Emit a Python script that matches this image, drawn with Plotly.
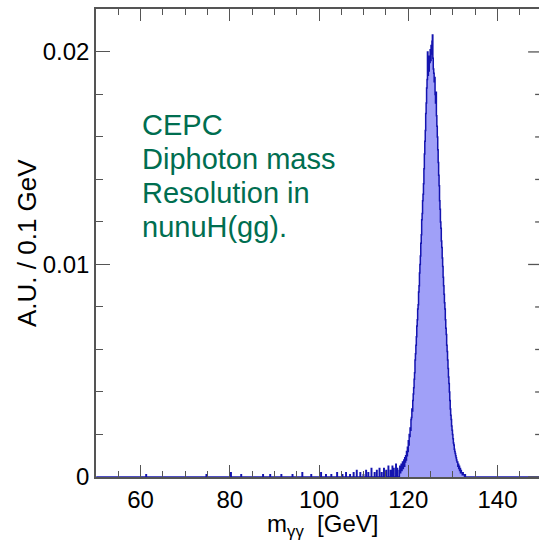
import numpy as np
import plotly.graph_objects as go

# ---------------- data ----------------
# bin width 0.1 GeV; peak region bins starting at 118.0 GeV
peak_start = 118.0
peak_values = [
    0.0003, 0.0005, 0.0002, 0.0004, 0.0006, 0.0003, 0.0005, 0.0007, 0.0004, 0.0006,  # 118.0-118.9
    0.0008, 0.0005, 0.0009, 0.0007, 0.0010, 0.0008, 0.0012, 0.0010, 0.0014, 0.0012,  # 119.0-119.9
    0.0017, 0.0015, 0.0020, 0.0019, 0.0023, 0.0022, 0.0027, 0.0028, 0.0032, 0.0031,  # 120.0-120.9
    0.0036, 0.0039, 0.0042, 0.0046, 0.0049, 0.0055, 0.0058, 0.0062, 0.0066, 0.0071,  # 121.0-121.9
    0.0074, 0.0079, 0.0081, 0.0087, 0.0090, 0.0096, 0.0100, 0.0104, 0.0110, 0.0114,  # 122.0-122.9
    0.0121, 0.0124, 0.0130, 0.0133, 0.0138, 0.0145, 0.0152, 0.0158, 0.0163, 0.0171,  # 123.0-123.9
    0.0176, 0.0183, 0.0187, 0.0200, 0.0189, 0.0194, 0.0191, 0.0198, 0.0195, 0.0201,  # 124.0-124.9
    0.0196, 0.0203, 0.0199, 0.0205, 0.0208, 0.0197, 0.0192, 0.0190, 0.0186, 0.0188,  # 125.0-125.9
    0.0180, 0.0176, 0.0181, 0.0170, 0.0165, 0.0160, 0.0154, 0.0148, 0.0142, 0.0137,  # 126.0-126.9
    0.0130, 0.0126, 0.0120, 0.0117, 0.0111, 0.0108, 0.0103, 0.0099, 0.0094, 0.0090,  # 127.0-127.9
    0.0086, 0.0082, 0.0079, 0.0074, 0.0070, 0.0067, 0.0062, 0.0059, 0.0055, 0.0051,  # 128.0-128.9
    0.0047, 0.0044, 0.0040, 0.0036, 0.0032, 0.0029, 0.0027, 0.0024, 0.0022, 0.0020,  # 129.0-129.9
    0.0018, 0.0016, 0.0015, 0.0013, 0.0012, 0.0011, 0.0010, 0.0009, 0.0008, 0.0007,  # 130.0-130.9
    0.0007, 0.0005, 0.0006, 0.0004, 0.0005, 0.0003, 0.0004, 0.0002, 0.0003, 0.0002,  # 131.0-131.9
    0.0002, 0.0001, 0.0002, 0.0001, 0.0001, 0.0001, 0.0000, 0.0001, 0.0000, 0.0000,  # 132.0-132.9
]

# sparse low-mass tail: bin position (GeV) and content
tail_x = [61.3, 74.8, 80.2, 82.6, 87.4, 89.1, 91.5, 94.0, 96.3, 98.2,
          100.4, 101.5, 102.8, 104.1, 105.3, 106.0, 106.9, 107.7, 108.4, 109.2,
          109.9, 110.5, 111.1, 111.8, 112.4, 112.9, 113.5, 114.0, 114.6, 115.1,
          115.5, 116.0, 116.4, 116.8, 117.2, 117.6]
tail_y = [0.0001, 0.0001, 0.0002, 0.0001, 0.0001, 0.0001, 0.0001, 0.0001, 0.0002, 0.0001,
          0.0002, 0.0001, 0.0001, 0.0002, 0.0001, 0.0002, 0.0001, 0.0002, 0.0003, 0.0002,
          0.0001, 0.0003, 0.0002, 0.0004, 0.0002, 0.0003, 0.0004, 0.0002, 0.0004, 0.0003,
          0.0005, 0.0003, 0.0005, 0.0004, 0.0006, 0.0004]

x_ticks = [60, 80, 100, 120, 140]
y_ticks = [0, 0.01, 0.02]
y_ticklabels = ["0", "0.01", "0.02"]
note_lines = ["CEPC", "Diphoton mass", "Resolution in", "nunuH(gg)."]

# ---------------- build histogram ----------------
x_lo, x_hi, bw = 50.0, 150.0, 0.1
nb = int(round((x_hi - x_lo) / bw))
centers = x_lo + bw * (np.arange(nb) + 0.5)
contents = np.zeros(nb)
for xv, yv in zip(tail_x, tail_y):
    contents[int((xv - x_lo) / bw)] = yv
i0 = int(round((peak_start - x_lo) / bw))
for k, v in enumerate(peak_values):
    contents[i0 + k] = v

fig = go.Figure()
fig.add_trace(go.Scatter(
    x=centers, y=contents, mode="lines", line_shape="hvh",
    line=dict(color="rgb(20,20,175)", width=1.5),
    fill="tozeroy", fillcolor="rgb(160,160,248)",
    hoverinfo="skip", showlegend=False))

axis_col = "#555555"
FONT = "Liberation Sans, Arial, sans-serif"
L, T, B = 96, 9, 65.5

fig.update_layout(
    width=539, height=543,
    margin=dict(l=L, r=0, t=T, b=B, autoexpand=False),
    plot_bgcolor="white", paper_bgcolor="white",
    font=dict(family=FONT, size=24, color="black"),
    xaxis=dict(
        range=[50, 149.3], showgrid=False, zeroline=False,
        showline=True, linecolor=axis_col, linewidth=1.5, mirror="ticks",
        tickmode="array", tickvals=x_ticks, ticks="inside", ticklen=12,
        tickwidth=1.3, tickcolor=axis_col,
        minor=dict(dtick=5, tick0=50, ticks="inside", ticklen=6, tickwidth=1.2, tickcolor=axis_col, showgrid=False),
        tickfont=dict(size=24),
    ),
    yaxis=dict(
        range=[0, 0.02202], showgrid=False, zeroline=False,
        showline=True, linecolor=axis_col, linewidth=1.5, mirror=False,
        tickmode="array", tickvals=y_ticks, ticktext=y_ticklabels,
        ticks="inside", ticklen=14, tickwidth=1.3, tickcolor=axis_col,
        minor=dict(dtick=0.002, tick0=0, ticks="inside", ticklen=7, tickwidth=1.2, tickcolor=axis_col, showgrid=False),
        tickfont=dict(size=24),
    ),
)

# right-hand axis ticks (frame lies just beyond the visible window at 150 GeV)
px_per_gev = (539 - L) / (149.3 - 50)
for k in range(0, 11):
    yv = 0.002 * k
    ln = 14 if k % 5 == 0 else 7
    fig.add_shape(type="line", xref="x", yref="y",
                  x0=150 - ln / px_per_gev, x1=150, y0=yv, y1=yv,
                  line=dict(color=axis_col, width=1.3))

# y-axis title
fig.add_annotation(x=0, y=0.5, xref="paper", yref="paper", xanchor="center", yanchor="middle",
                   xshift=27 - L, text="A.U. / 0.1 GeV", textangle=-90, showarrow=False,
                   font=dict(size=26, family=FONT))

# x-axis title
fig.add_annotation(x=100, y=0, xref="x", yref="paper", yanchor="middle", xshift=3,
                   yshift=-(526 - (543 - B)),
                   text="m<sub>γγ</sub>  [GeV]", showarrow=False,
                   font=dict(size=24, family=FONT))

# note text, one line each
line_centers = [125, 159, 193, 227]
for txt, yc in zip(note_lines, line_centers):
    fig.add_annotation(x=0, y=1, xref="paper", yref="paper", showarrow=False,
                       text=txt, align="left", xanchor="left", yanchor="middle",
                       xshift=140 - L, yshift=-(yc - T),
                       font=dict(size=29, family=FONT, color="rgb(0,110,80)"))

fig.write_html("out.html", config={"displayModeBar": False},
               post_script="document.body.style.margin='0';document.body.style.overflow='hidden';")
